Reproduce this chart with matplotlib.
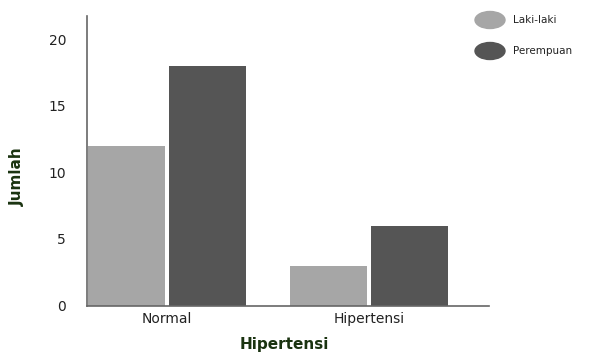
import matplotlib.pyplot as plt
from matplotlib.patches import Ellipse
import numpy as np

categories = ['Normal', 'Hipertensi']
laki = [12, 3]
perempuan = [18, 6]
series_names = ['Laki-laki', 'Perempuan']
colors = ['#a6a6a6', '#555555']

plt.rcParams['font.family'] = ['DejaVu Sans']

fig = plt.figure(figsize=(5.9, 3.54), dpi=100)
ax = fig.add_axes([87/590, 1 - 305.5/354, 402/590, 290/354])

x = np.arange(len(categories))
w = 0.38
ax.bar(x - w/2 - 0.01, laki, w, color=colors[0])
ax.bar(x + w/2 + 0.01, perempuan, w, color=colors[1])

ax.set_xlim(-0.396, 1.594)
ax.set_ylim(0, 21.8)
ax.set_yticks([0, 5, 10, 15, 20])
ax.set_xticks(x)
ax.set_xticklabels(categories)
ax.tick_params(length=0, labelsize=10, colors='#222222')
ax.tick_params(axis='y', pad=15)
ax.tick_params(axis='x', pad=5)
for s in ['top', 'right']:
    ax.spines[s].set_visible(False)
for s in ['left', 'bottom']:
    ax.spines[s].set_color('#666666')
    ax.spines[s].set_linewidth(1.2)

fig.text(17/590, 1 - 177/354, 'Jumlah', fontsize=11, fontweight='bold', color='#1a3310',
         rotation=90, ha='center', va='center')
fig.text(284/590, 1 - 345/354, 'Hipertensi', fontsize=11, fontweight='bold', color='#1a3310',
         ha='center', va='center')

# legend
for i, name in enumerate(series_names):
    yc = 1 - (20 + 31*i)/354
    fig.patches.append(Ellipse((490/590, yc), 30/590, 17/354, color=colors[i],
                               transform=fig.transFigure, figure=fig))
    fig.text(513/590, yc, name, fontsize=7.5, va='center', color='#222222')

fig.savefig('out.png', dpi=100)
